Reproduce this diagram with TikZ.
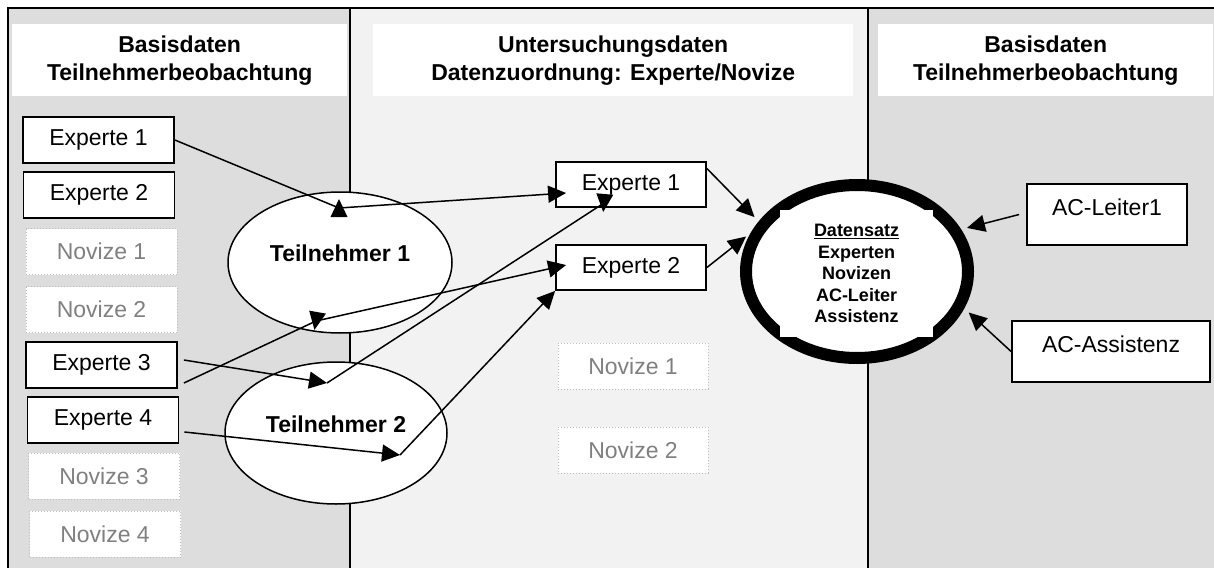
\documentclass[tikz,border=0pt]{standalone}
\usepackage{fontspec}
\setmainfont{Liberation Sans}
\usetikzlibrary{arrows.meta,shapes.geometric}
\newcommand{\BoxW}{151pt}
\newcommand{\BoxH}{46pt}
\newcommand{\MidW}{150pt}
\newcommand{\BoxFont}{\fontsize{23pt}{28pt}\selectfont}
\newcommand{\RingFont}{\fontsize{18pt}{21.5pt}\selectfont}
\definecolor{baseFill}{RGB}{221,221,221}
\definecolor{studyFill}{RGB}{242,242,242}
\definecolor{noviceText}{RGB}{128,128,128}
\definecolor{noviceStroke}{RGB}{190,190,190}
\tikzset{
  tipmark/.pic={\fill (9,0) -- (-9,8.5) -- (-9,-8.5) -- cycle;}
}

\begin{document}
\begin{tikzpicture}[
  x=1pt, y=-1pt,
  frameline/.style = {line width=2pt, black},
  column/.style    = {rectangle, inner sep=0pt, anchor=north west, minimum height=582pt},
  titlebox/.style  = {rectangle, fill=white, inner sep=0pt, anchor=north west,
                      minimum height=72pt, align=center, font=\BoxFont\bfseries},
  expbox/.style    = {rectangle, draw, line width=1.8pt, fill=white, inner sep=0pt,
                      minimum width=\BoxW, minimum height=\BoxH, font=\BoxFont},
  novbox/.style    = {rectangle, draw=noviceStroke, dotted, line width=1pt, fill=white,
                      inner sep=0pt, minimum width=\BoxW, minimum height=\BoxH,
                      text=noviceText, font=\BoxFont},
  acbox/.style     = {rectangle, draw, line width=1.8pt, fill=white, inner sep=0pt,
                      minimum height=61pt, text height=17pt, text depth=15pt,
                      font=\BoxFont},
  partic/.style    = {ellipse, draw, line width=1.5pt, fill=white, inner sep=0pt,
                      text depth=18pt, font=\BoxFont\bfseries},
  dataring/.style  = {ellipse, draw, line width=12pt, fill=white, inner sep=0pt,
                      minimum width=222pt, minimum height=173pt},
  datatext/.style  = {rectangle, fill=white, inner sep=0pt, minimum width=153pt,
                      minimum height=127pt, align=center, font=\RingFont\bfseries},
  conn/.style      = {line width=1.5pt, black},
  arr/.style       = {conn, -{Triangle[length=18pt,width=17pt]}},
  ringarr/.style   = {arr, shorten >=6pt},
]
\useasboundingbox (0,0) rectangle (1214,567);
\clip (0,0) rectangle (1214,567);
\fill[white] (0,0) rectangle (1214,567);

% ----------------------------------------------------------------
% Columns and frame
% ----------------------------------------------------------------
\node[column, fill=baseFill,  minimum width=342pt] (colL) at (8,8) {};
\node[column, fill=studyFill, minimum width=518pt] (colM) at (350,8) {};
\node[column, fill=baseFill,  minimum width=362pt] (colR) at (868,8) {};

\draw[frameline] (colL.south west) -- (colL.north west) -- (colR.north east);
\draw[frameline] (colL.north east) -- (colL.south east);
\draw[frameline] (colM.north east) -- (colM.south east);

% ----------------------------------------------------------------
% Column titles
% ----------------------------------------------------------------
\node[titlebox, minimum width=335pt] (tL) at (12,24)
  {Basisdaten\\Teilnehmerbeobachtung};
\node[titlebox, minimum width=480pt] (tM) at (373,24)
  {Untersuchungsdaten\\Datenzuordnung: Experte/Novize};
\node[titlebox, minimum width=335pt] (tR) at (878,24)
  {Basisdaten\\Teilnehmerbeobachtung};

% ----------------------------------------------------------------
% Left column: observed participants
% ----------------------------------------------------------------
\node[expbox] (E1L) at (98.5,140) {Experte 1};
\node[expbox] (E2L) at (99,195)   {Experte 2};
\node[novbox] (N1L) at (101.5,251.5) {Novize 1};
\node[novbox] (N2L) at (101.5,309.5) {Novize 2};
\node[expbox] (E3L) at (101.5,365) {Experte 3};
\node[expbox] (E4L) at (103,420)  {Experte 4};
\node[novbox] (N3L) at (104,476)  {Novize 3};
\node[novbox] (N4L) at (105,534)  {Novize 4};

\node[partic, minimum width=224pt, minimum height=141pt]
  (T1) at (340,262.5) {Teilnehmer 1};
\node[partic, minimum width=222pt, minimum height=142pt]
  (T2) at (336,433) {Teilnehmer 2};

% ----------------------------------------------------------------
% Middle column: assigned data
% ----------------------------------------------------------------
\node[expbox, minimum width=\MidW, minimum height=45pt] (E1M) at (631,184.5) {Experte 1};
\node[expbox, minimum width=\MidW, minimum height=45pt] (E2M) at (631,267.5) {Experte 2};
\node[novbox, minimum width=\MidW] (N1M) at (633,366) {Novize 1};
\node[novbox, minimum width=\MidW] (N2M) at (633,450) {Novize 2};

% ----------------------------------------------------------------
% Data set and assessors
% ----------------------------------------------------------------
\node[dataring] (ds) at (857,271.5) {};
\node[datatext] (dstext) at (856.5,273.5)
  {\underline{Datensatz}\\Experten\\Novizen\\AC-Leiter\\Assistenz};

\node[acbox, minimum width=160pt] (AC1) at (1107,214.5) {AC-Leiter1};
\node[acbox, minimum width=198pt] (AC2) at (1111,351.5) {AC-Assistenz};

% ----------------------------------------------------------------
% Connections
% ----------------------------------------------------------------
\coordinate (b1) at (339,208);
\coordinate (b2) at (316,321);
\coordinate (b3) at (327,383);
\coordinate (b4) at (400,455);
\coordinate (t1) at (604,203);
\coordinate (e1in) at ([xshift=11pt,yshift=-8.5pt]E1M.west);
\coordinate (e2in) at ([xshift=11pt,yshift=2.5pt]E2M.west);

% Experte 1 -> Teilnehmer 1 -> Experte 1
\draw[conn] (E1L.east) -- (b1);
\draw[arr] (b1) -- (e1in);
\pic[rotate=90] at (b1) {tipmark};

% Experte 3 -> Teilnehmer 2 -> Experte 1
\draw[arr] ([xshift=6pt,yshift=5pt]E3L.east) -- (b3);
\draw[conn] (b3) -- (t1);
\pic[rotate=-95] at (t1) {tipmark};

% Experte 3 -> Teilnehmer 1 -> Experte 2
\draw[conn] ([xshift=6pt,yshift=-18pt]E3L.east) -- (b2);
\draw[arr] (b2) -- (e2in);
\pic[rotate=-100] at (b2) {tipmark};

% Experte 4 -> Teilnehmer 2 -> Experte 2
\draw[arr] ([xshift=5pt,yshift=-12pt]E4L.east) -- (b4);
\draw[arr] (b4) -- (E2M.south west);

% into the data set
\draw[ringarr] ([yshift=16pt]E1M.east) -- (ds.153);
\draw[ringarr] (E2M.east) -- (ds.160);
\draw[ringarr] ([xshift=-7pt]AC1.west) -- (ds.22);
\draw[ringarr] (AC2.west) -- (ds.-19);

\end{tikzpicture}
\end{document}
